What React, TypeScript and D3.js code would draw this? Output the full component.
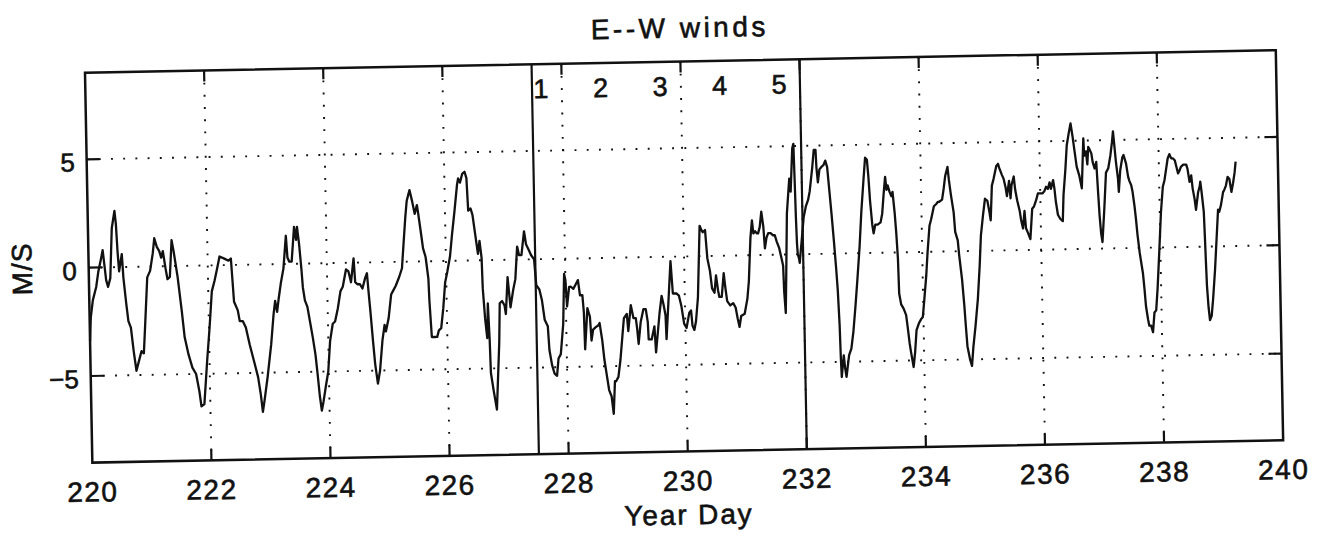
import React from "react";
import * as d3 from "d3";

// Figure geometry (the whole figure sits at a slight tilt, as printed)
const WIDTH = 1322;
const HEIGHT = 534;
const PLOT_W = 1191;
const PLOT_H = 390;
const ORIGIN_X = 85;
const ORIGIN_Y = 72.7;
const TILT_DEG = -1.08;

const xDomain = [220, 240];
const yDomain = [-9, 9];
const dayTicks = [220, 222, 224, 226, 228, 230, 232, 234, 236, 238, 240];
const speedTicks = [-5, 0, 5];
const speedTickLabels = ["\u22125", "0", "5"];

// Period boundaries and the numbered days between them
const periodBounds = [227.5, 232];
const periodLabels = ["1", "2", "3", "4", "5"];
const periodLabelDays = [227.65, 228.65, 229.65, 230.65, 231.65];

// East-west wind component (m/s) against year day
const windDay = [
  220.0, 220.02, 220.06, 220.12, 220.16, 220.21, 220.24, 220.29, 220.32, 220.36,
  220.4, 220.45, 220.47, 220.49, 220.51, 220.56, 220.58, 220.62, 220.65, 220.69,
  220.73, 220.77, 220.82, 220.86, 220.9, 220.93, 220.98, 221.03, 221.08, 221.11,
  221.15, 221.19, 221.22, 221.25, 221.29, 221.32, 221.36, 221.4, 221.43, 221.49,
  221.55, 221.59, 221.65, 221.71, 221.77, 221.82, 221.85, 221.9, 221.96, 222.01,
  222.06, 222.11, 222.16, 222.2, 222.28, 222.35, 222.39, 222.43, 222.49, 222.52,
  222.57, 222.62, 222.68, 222.75, 222.81, 222.85, 222.88, 222.91, 222.97, 223.04,
  223.09, 223.12, 223.15, 223.18, 223.22, 223.27, 223.32, 223.34, 223.37, 223.41,
  223.46, 223.49, 223.51, 223.54, 223.57, 223.59, 223.62, 223.66, 223.7, 223.74,
  223.78, 223.81, 223.84, 223.87, 223.9, 223.95, 223.99, 224.03, 224.08, 224.12,
  224.17, 224.22, 224.26, 224.29, 224.32, 224.36, 224.4, 224.45, 224.47, 224.51,
  224.55, 224.59, 224.64, 224.67, 224.69, 224.72, 224.75, 224.78, 224.82, 224.86,
  224.91, 224.95, 224.97, 225.02, 225.07, 225.11, 225.15, 225.21, 225.26, 225.29,
  225.33, 225.36, 225.41, 225.45, 225.49, 225.53, 225.55, 225.59, 225.62, 225.66,
  225.7, 225.71, 225.74, 225.79, 225.83, 225.86, 225.9, 225.94, 225.98, 226.02,
  226.07, 226.11, 226.16, 226.21, 226.23, 226.26, 226.3, 226.34, 226.37, 226.39,
  226.43, 226.46, 226.5, 226.54, 226.57, 226.6, 226.61, 226.64, 226.67, 226.69,
  226.71, 226.72, 226.76, 226.81, 226.87, 226.89, 226.93, 226.97, 226.99, 227.03,
  227.07, 227.12, 227.16, 227.2, 227.23, 227.27, 227.32, 227.35, 227.4, 227.43,
  227.48, 227.51, 227.56, 227.6, 227.64, 227.69, 227.71, 227.75, 227.79, 227.83,
  227.86, 227.9, 227.95, 227.98, 228.0, 228.02, 228.06, 228.09, 228.13, 228.17,
  228.21, 228.24, 228.28, 228.3, 228.31, 228.36, 228.4, 228.42, 228.45, 228.49,
  228.54, 228.56, 228.6, 228.63, 228.67, 228.7, 228.74, 228.77, 228.8, 228.82,
  228.86, 228.9, 228.94, 228.97, 229.02, 229.04, 229.09, 229.13, 229.17, 229.19,
  229.21, 229.25, 229.3, 229.34, 229.37, 229.38, 229.43, 229.48, 229.5, 229.57,
  229.61, 229.64, 229.67, 229.68, 229.73, 229.77, 229.8, 229.86, 229.9, 229.94,
  229.98, 230.02, 230.07, 230.1, 230.12, 230.15, 230.18, 230.22, 230.27, 230.3,
  230.32, 230.36, 230.39, 230.43, 230.46, 230.5, 230.53, 230.56, 230.58, 230.62,
  230.66, 230.68, 230.71, 230.76, 230.81, 230.85, 230.88, 230.91, 230.94, 231.0,
  231.05, 231.08, 231.12, 231.15, 231.17, 231.2, 231.23, 231.25, 231.28, 231.31,
  231.34, 231.36, 231.39, 231.42, 231.46, 231.5, 231.53, 231.56, 231.6, 231.63,
  231.66, 231.67, 231.69, 231.71, 231.74, 231.79, 231.81, 231.85, 231.87, 231.88,
  231.89, 231.9, 231.91, 231.93, 231.94, 231.99, 232.02, 232.06, 232.1, 232.13,
  232.18, 232.21, 232.24, 232.25, 232.27, 232.3, 232.33, 232.37, 232.4, 232.43,
  232.46, 232.49, 232.52, 232.55, 232.57, 232.59, 232.6, 232.61, 232.65, 232.67,
  232.69, 232.71, 232.74, 232.78, 232.82, 232.86, 232.9, 232.95, 232.99, 233.04,
  233.07, 233.1, 233.12, 233.14, 233.17, 233.19, 233.22, 233.26, 233.31, 233.34,
  233.37, 233.4, 233.42, 233.44, 233.47, 233.5, 233.52, 233.55, 233.57, 233.59,
  233.6, 233.63, 233.67, 233.71, 233.73, 233.76, 233.78, 233.82, 233.85, 233.88,
  233.92, 233.96, 233.99, 234.02, 234.06, 234.09, 234.13, 234.16, 234.21, 234.25,
  234.28, 234.3, 234.35, 234.38, 234.41, 234.45, 234.47, 234.5, 234.54, 234.56,
  234.6, 234.62, 234.66, 234.69, 234.71, 234.73, 234.77, 234.8, 234.83, 234.87,
  234.92, 234.96, 234.99, 235.03, 235.07, 235.11, 235.14, 235.16, 235.19, 235.22,
  235.27, 235.3, 235.32, 235.36, 235.39, 235.42, 235.44, 235.48, 235.5, 235.52,
  235.56, 235.58, 235.61, 235.65, 235.67, 235.7, 235.73, 235.75, 235.78, 235.82,
  235.86, 235.89, 235.93, 235.96, 236.0, 236.04, 236.07, 236.1, 236.13, 236.16,
  236.18, 236.22, 236.24, 236.26, 236.29, 236.33, 236.37, 236.39, 236.43, 236.46,
  236.5, 236.53, 236.56, 236.59, 236.62, 236.66, 236.7, 236.74, 236.75, 236.78,
  236.8, 236.82, 236.84, 236.87, 236.89, 236.92, 236.95, 236.97, 236.99, 237.01,
  237.03, 237.07, 237.11, 237.15, 237.19, 237.22, 237.24, 237.26, 237.28, 237.31,
  237.32, 237.35, 237.39, 237.41, 237.45, 237.48, 237.5, 237.53, 237.55, 237.58,
  237.6, 237.62, 237.65, 237.67, 237.7, 237.72, 237.74, 237.77, 237.79, 237.82,
  237.85, 237.88, 237.91, 237.94, 237.98, 238.02, 238.06, 238.09, 238.12, 238.15,
  238.18, 238.21, 238.24, 238.27, 238.32, 238.34, 238.37, 238.41, 238.46, 238.48,
  238.51, 238.54, 238.56, 238.59, 238.61, 238.65, 238.68, 238.69, 238.71, 238.74,
  238.75, 238.76, 238.77, 238.79, 238.81, 238.84, 238.87, 238.91, 238.95, 238.98,
  239.0, 239.03, 239.07, 239.09, 239.12, 239.15, 239.18, 239.21, 239.24, 239.27,
  239.29,
];

const windSpeed = [
  -3.4, -2.3, -1.5, -0.9, -0.2, 0.4, 0.8, -0.6, -0.9, -0.5,
  1.8, 2.6, 2.0, 0.7, -0.2, 0.6, -0.5, -1.7, -2.5, -2.8,
  -3.9, -4.8, -4.3, -3.9, -4.0, -2.7, -0.5, -0.2, 0.6, 1.3,
  0.9, 0.7, 0.4, 0.7, -0.1, -0.6, -0.5, 1.2, 0.7, -0.5,
  -2.1, -3.3, -4.1, -4.7, -5.0, -5.8, -6.5, -6.4, -4.4, -2.9,
  -1.2, -0.7, -0.1, 0.4, 0.3, 0.2, 0.3, -1.7, -2.1, -2.6,
  -2.6, -2.9, -3.7, -4.5, -5.2, -6.0, -6.8, -6.3, -5.2, -3.7,
  -2.3, -1.7, -2.2, -1.6, -0.9, -0.2, 1.3, 0.3, 0.1, 0.1,
  1.7, 1.1, 1.7, 0.9, -0.2, -1.1, -1.7, -2.0, -2.7, -3.4,
  -4.2, -5.1, -6.1, -6.8, -6.4, -5.6, -5.0, -3.6, -2.8, -2.7,
  -2.1, -1.3, -1.1, -0.7, -0.3, -0.4, -0.9, 0.2, -0.9, -1.0,
  -1.0, -1.2, -0.7, -0.5, -1.3, -2.4, -3.6, -4.7, -5.6, -5.0,
  -3.6, -2.9, -3.2, -2.6, -1.5, -1.3, -1.1, -0.7, -0.3, 0.7,
  2.0, 2.8, 3.3, 2.8, 2.2, 2.6, 2.2, 1.3, 0.6, 0.2,
  -0.8, -1.8, -3.5, -3.5, -3.5, -3.2, -3.1, -2.2, -1.0, -0.5,
  0.2, 1.2, 2.3, 3.5, 3.8, 3.6, 4.0, 4.1, 3.8, 2.3,
  2.4, 2.1, 1.2, 0.3, 0.9, 0.1, -1.3, -2.7, -3.6, -2.0,
  -3.7, -5.2, -6.0, -6.9, -3.8, -2.0, -1.9, -2.1, -2.5, -0.8,
  -2.2, -1.4, -0.9, 0.6, 0.2, 0.2, 1.3, 0.7, 0.4, 0.2,
  0.0, -1.2, -1.4, -1.9, -2.8, -3.1, -4.2, -4.9, -5.3, -5.4,
  -4.6, -4.4, -3.0, -0.7, -1.0, -2.2, -1.3, -1.3, -1.4, -1.2,
  -1.0, -1.7, -1.7, -2.5, -4.2, -2.3, -2.7, -3.8, -3.3, -3.2,
  -3.1, -3.0, -3.8, -4.7, -5.5, -6.1, -6.4, -7.2, -5.7, -5.7,
  -5.5, -4.7, -3.6, -2.8, -2.6, -3.4, -2.2, -2.8, -2.8, -3.3,
  -4.0, -3.0, -2.4, -2.4, -3.0, -3.8, -3.8, -3.2, -4.4, -2.6,
  -1.8, -2.2, -2.7, -3.8, -1.8, -0.2, -1.7, -1.7, -1.8, -2.3,
  -3.1, -3.3, -2.6, -2.5, -3.2, -3.4, -3.0, -1.9, 1.4, 1.2,
  1.1, 1.2, -0.1, -0.7, -1.5, -1.7, -0.9, -1.6, -1.9, -1.9,
  -0.8, -1.4, -2.1, -2.3, -2.2, -2.4, -2.9, -3.3, -2.8, -2.7,
  -2.0, -1.2, 0.8, 1.6, 1.0, 1.1, 1.0, 1.0, 1.3, 2.0,
  1.3, 0.3, 0.8, 1.0, 1.0, 0.9, 0.9, 0.6, 0.3, -0.1,
  -0.5, -1.7, -2.7, -0.9, 1.9, 3.5, 2.9, 4.9, 5.1, 3.5,
  1.7, 0.5, 0.0, -0.2, -0.4, 0.9, 1.7, 2.2, 2.5, 2.9,
  4.0, 4.8, 4.8, 4.0, 3.3, 3.9, 4.0, 4.1, 4.3, 4.0,
  2.9, 1.8, 0.6, -0.7, -1.7, -3.3, -4.8, -5.7, -4.7, -5.3,
  -5.7, -5.3, -4.7, -4.4, -3.6, -2.5, -1.3, 0.3, 1.9, 3.5,
  4.4, 4.3, 3.5, 2.4, 1.3, 0.9, 1.3, 1.3, 1.4, 1.8,
  2.7, 3.5, 2.9, 3.1, 2.8, 2.6, 2.8, 1.8, 0.9, -0.3,
  -1.9, -2.4, -2.6, -2.9, -3.4, -4.2, -4.6, -5.3, -4.6, -3.6,
  -3.3, -3.1, -3.0, -2.2, -1.1, 0.0, 1.2, 1.5, 2.1, 2.2,
  2.3, 2.3, 2.4, 2.9, 3.5, 3.9, 3.3, 2.6, 1.8, 0.9,
  0.5, -0.2, -1.3, -2.5, -3.5, -4.4, -5.0, -5.3, -4.4, -3.5,
  -2.2, -0.7, 0.7, 1.6, 2.4, 2.3, 1.8, 1.4, 3.0, 3.3,
  3.9, 4.0, 3.8, 3.5, 3.3, 2.9, 2.5, 3.2, 2.4, 3.0,
  3.4, 2.8, 2.3, 1.8, 1.4, 1.0, 1.8, 1.0, 0.8, 0.5,
  1.9, 2.0, 2.3, 2.6, 2.6, 2.6, 2.7, 2.9, 2.8, 3.1,
  2.8, 3.2, 2.8, 2.2, 1.6, 1.4, 1.3, 2.5, 3.7, 4.8,
  5.4, 5.8, 5.2, 4.5, 3.8, 3.4, 2.8, 5.1, 4.3, 4.5,
  3.9, 4.7, 4.6, 4.4, 4.0, 3.7, 4.0, 2.7, 1.5, 0.7,
  0.3, 1.8, 3.5, 3.7, 4.3, 4.9, 5.4, 4.7, 4.0, 3.2,
  2.6, 3.6, 4.2, 4.3, 3.9, 3.3, 3.1, 2.9, 2.6, 1.9,
  1.3, 0.6, -0.2, -0.6, -1.2, -1.9, -2.7, -3.3, -3.6, -3.6,
  -3.9, -3.0, -2.9, -1.9, -0.2, 1.6, 2.8, 3.1, 3.6, 4.1,
  4.3, 4.1, 4.1, 4.0, 3.4, 3.5, 3.7, 3.8, 3.8, 3.6,
  3.0, 3.3, 2.7, 2.2, 1.7, 2.5, 2.8, 3.0, 2.5, 1.6,
  0.5, -0.7, -1.8, -2.8, -3.4, -3.2, -2.4, -1.1, 0.5, 1.7,
  1.6, 1.9, 2.5, 2.6, 2.8, 3.2, 3.1, 2.5, 2.9, 3.4,
  3.9,
];

const FONT = "'Liberation Sans', Arial, Helvetica, sans-serif";
const INK = "#111";

export default function App() {
  const x = d3.scaleLinear().domain(xDomain).range([0, PLOT_W]);
  const y = d3.scaleLinear().domain(yDomain).range([PLOT_H, 0]);

  const windLine = d3
    .line<number>()
    .x((_, i) => x(windDay[i]))
    .y((v) => y(v));

  const TICK = 11;
  const gridDash = "1.9 10.3";
  const innerDays = dayTicks.slice(1, -1);
  // printed text is slightly heavy; a thin outline reproduces that weight
  const textInk = { fill: INK, stroke: INK, strokeWidth: 0.6 };

  return (
    <svg
      width={WIDTH}
      height={HEIGHT}
      style={{ position: "absolute", left: 0, top: 0, background: "#fff" }}
      fontFamily={FONT}
    >
      <rect width={WIDTH} height={HEIGHT} fill="#fff" />
      <g transform={`translate(${ORIGIN_X},${ORIGIN_Y}) rotate(${TILT_DEG})`}>
        {/* dotted grid */}
        {innerDays.map((d) => (
          <line
            key={`gx${d}`}
            x1={x(d)}
            x2={x(d)}
            y1={0}
            y2={PLOT_H}
            stroke={INK}
            strokeWidth={1.9}
            strokeDasharray={gridDash}
          />
        ))}
        {speedTicks.map((v) => (
          <line
            key={`gy${v}`}
            x1={0}
            x2={PLOT_W}
            y1={y(v)}
            y2={y(v)}
            stroke={INK}
            strokeWidth={1.9}
            strokeDasharray={gridDash}
          />
        ))}

        {/* inward ticks on all sides */}
        {innerDays.map((d) => (
          <g key={`tx${d}`} stroke={INK} strokeWidth={2.2}>
            <line x1={x(d)} x2={x(d)} y1={PLOT_H} y2={PLOT_H - TICK} />
            <line x1={x(d)} x2={x(d)} y1={0} y2={TICK} />
          </g>
        ))}
        {speedTicks.map((v) => (
          <g key={`ty${v}`} stroke={INK} strokeWidth={2.2}>
            <line x1={0} x2={TICK + 2} y1={y(v)} y2={y(v)} />
            <line x1={PLOT_W} x2={PLOT_W - TICK - 2} y1={y(v)} y2={y(v)} />
          </g>
        ))}

        {/* period boundaries */}
        {periodBounds.map((d) => (
          <line
            key={`pb${d}`}
            x1={x(d)}
            x2={x(d)}
            y1={0}
            y2={PLOT_H}
            stroke={INK}
            strokeWidth={2.2}
          />
        ))}
        {periodLabels.map((t, i) => (
          <text
            key={`pl${t}`}
            x={x(periodLabelDays[i])}
            y={34}
            textAnchor="middle"
            fontSize={27}
            {...textInk}
          >
            {t}
          </text>
        ))}

        {/* wind series */}
        <path
          d={windLine(windSpeed) ?? ""}
          fill="none"
          stroke={INK}
          strokeWidth={2.3}
          strokeLinejoin="round"
        />

        {/* frame */}
        <rect
          x={0}
          y={0}
          width={PLOT_W}
          height={PLOT_H}
          fill="none"
          stroke={INK}
          strokeWidth={2.5}
        />

        {/* tick labels */}
        {dayTicks.map((d) => (
          <text
            key={`lx${d}`}
            x={x(d)}
            y={PLOT_H + 39}
            textAnchor="middle"
            fontSize={28}
            letterSpacing={1.5}
            {...textInk}
          >
            {d}
          </text>
        ))}
        {speedTicks.map((v, i) => (
          <text
            key={`ly${v}`}
            x={-12}
            y={y(v) + 12}
            textAnchor="end"
            fontSize={26}
            {...textInk}
          >
            {speedTickLabels[i]}
          </text>
        ))}

        {/* titles */}
        <text
          x={PLOT_W / 2}
          y={-24}
          textAnchor="middle"
          fontSize={28}
          letterSpacing={3.5}
          {...textInk}
        >
          E--W winds
        </text>
        <text
          x={PLOT_W / 2}
          y={463}
          textAnchor="middle"
          fontSize={28}
          letterSpacing={1.9}
          {...textInk}
        >
          Year Day
        </text>
        <text
          transform={`translate(-57,${PLOT_H / 2}) rotate(-90)`}
          textAnchor="middle"
          fontSize={28}
          letterSpacing={1}
          {...textInk}
        >
          M/S
        </text>
      </g>
    </svg>
  );
}
